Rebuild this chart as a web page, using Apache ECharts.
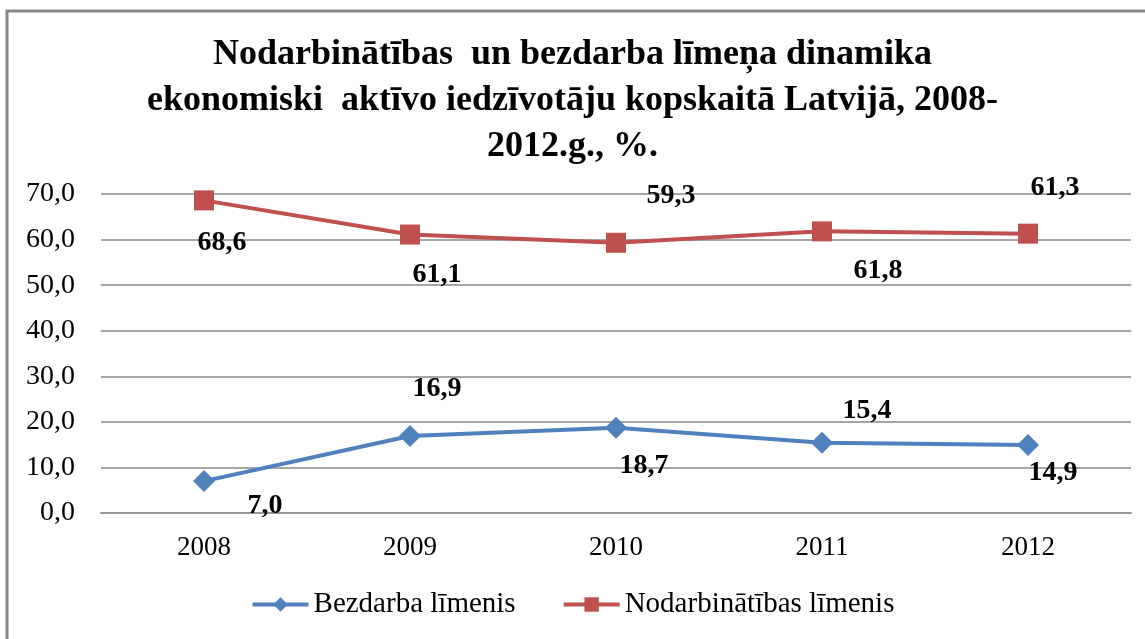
<!DOCTYPE html>
<html>
<head>
<meta charset="utf-8">
<script src="https://cdn.jsdelivr.net/npm/echarts@6/dist/echarts.min.js"></script>
<style>
  html, body { margin: 0; padding: 0; background: #fff; }
  #chart { width: 1145px; height: 639px; }
</style>
</head>
<body>
<div id="chart"></div>
<script>
const years = ['2008', '2009', '2010', '2011', '2012']
const bezdarbs = [7.0, 16.9, 18.7, 15.4, 14.9]
const nodarbinatiba = [68.6, 61.1, 59.3, 61.8, 61.3]
const yTicks = [0, 10, 20, 30, 40, 50, 60, 70]

// label placement, like in the original (offset from point)
const bezdarbsLabelOffset = [[61, 25], [27, -47], [28, 38], [45, -32], [25, 28]]
const nodarbLabelOffset = [[18, 42], [27, 40], [55, -47], [56, 39], [27, -46]]

const serif = 'Liberation Serif'
const fmt = v => v.toFixed(1).replace('.', ',')

function withLabels(values, offsets) {
  return values.map((v, i) => ({
    value: v,
    label: { offset: offsets[i] }
  }))
}

const chart = echarts.init(document.getElementById('chart'))
chart.setOption({
  backgroundColor: '#fff',
  animation: false,
  title: {
    text: 'Nodarbinātības  un bezdarba līmeņa dinamika\nekonomiski  aktīvo iedzīvotāju kopskaitā Latvijā, 2008-\n2012.g., %.',
    left: 'center',
    top: 27,
    textStyle: {
      fontFamily: serif,
      fontWeight: 'bold',
      fontSize: 36,
      lineHeight: 46,
      color: '#000'
    }
  },
  graphic: [{
    type: 'rect',
    shape: { x: 7, y: 11, width: 1200, height: 700 },
    style: { fill: 'none', stroke: '#888', lineWidth: 3 },
    silent: true
  }],
  legend: {
    bottom: 15,
    left: 'center',
    itemWidth: 56,
    itemHeight: 18,
    itemGap: 46,
    lineStyle: { width: 4 },
    textStyle: { fontFamily: serif, fontSize: 29, color: '#000' },
    data: ['Bezdarba līmenis', 'Nodarbinātības līmenis']
  },
  grid: {
    left: 101,
    right: 14,
    top: 194,
    bottom: 126
  },
  xAxis: {
    type: 'category',
    data: years,
    boundaryGap: true,
    axisLine: { lineStyle: { color: '#999', width: 2 } },
    axisTick: { show: false },
    axisLabel: { fontFamily: serif, fontSize: 27, color: '#000', margin: 21 }
  },
  yAxis: {
    type: 'value',
    min: yTicks[0],
    max: yTicks[yTicks.length - 1],
    interval: 10,
    axisLine: { show: false },
    axisTick: { show: false },
    splitLine: { lineStyle: { color: '#a6a6a6', width: 2 } },
    axisLabel: {
      fontFamily: serif,
      fontSize: 28,
      color: '#000',
      margin: 26,
      formatter: v => fmt(v)
    }
  },
  series: [
    {
      name: 'Bezdarba līmenis',
      type: 'line',
      data: withLabels(bezdarbs, bezdarbsLabelOffset),
      symbol: 'diamond',
      symbolSize: 22,
      itemStyle: { color: '#4F81BD' },
      lineStyle: { color: '#4F81BD', width: 4 },
      label: {
        show: true,
        position: 'inside',
        fontFamily: serif,
        fontWeight: 'bold',
        fontSize: 28,
        color: '#000',
        formatter: p => fmt(p.value)
      }
    },
    {
      name: 'Nodarbinātības līmenis',
      type: 'line',
      data: withLabels(nodarbinatiba, nodarbLabelOffset),
      symbol: 'rect',
      symbolSize: 20,
      itemStyle: { color: '#C0504D' },
      lineStyle: { color: '#C0504D', width: 4 },
      label: {
        show: true,
        position: 'inside',
        fontFamily: serif,
        fontWeight: 'bold',
        fontSize: 28,
        color: '#000',
        formatter: p => fmt(p.value)
      }
    }
  ]
})
</script>
</body>
</html>
